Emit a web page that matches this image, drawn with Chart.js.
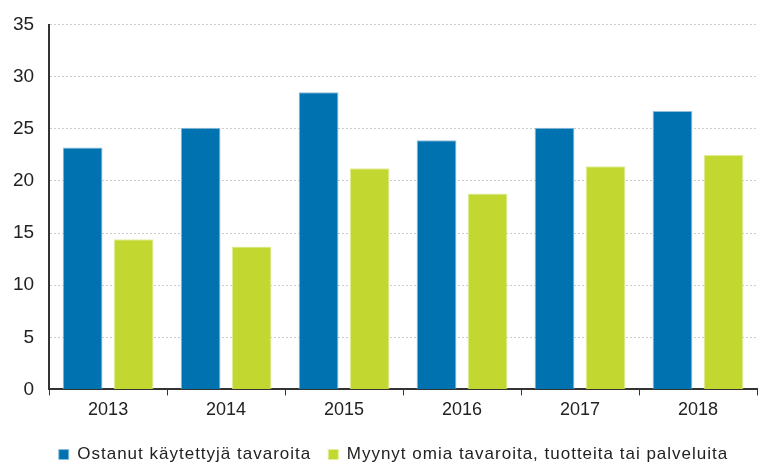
<!DOCTYPE html>
<html>
<head>
<meta charset="utf-8">
<script src="https://cdn.jsdelivr.net/npm/chart.js@4"></script>
<style>
html,body{margin:0;padding:0;background:#fff;}
#wrap{width:758px;height:465px;position:relative;}
</style>
</head>
<body>
<div id="wrap"><canvas id="c" width="758" height="465"></canvas></div>
<script>
const categories = ["2013", "2014", "2015", "2016", "2017", "2018"];
const seriesNames = ["Ostanut käytettyjä tavaroita", "Myynyt omia tavaroita, tuotteita tai palveluita"];
const bought = [23.2, 25.1, 28.5, 23.9, 25.1, 26.7];
const sold = [14.4, 13.7, 21.2, 18.8, 21.4, 22.5];
const yTicks = [0, 5, 10, 15, 20, 25, 30, 35];

const FONT = "'Liberation Sans', Arial, sans-serif";

const chart = new Chart(document.getElementById('c'), {
  type: 'bar',
  data: {
    labels: categories,
    datasets: [
      { label: seriesNames[0], data: bought, backgroundColor: '#0072B0', borderColor: '#8fbedc', borderWidth: 1,
        categoryPercentage: 0.865, barPercentage: 0.78 },
      { label: seriesNames[1], data: sold, backgroundColor: '#C2D831', borderColor: '#e3ee9e', borderWidth: 1,
        categoryPercentage: 0.865, barPercentage: 0.78 }
    ]
  },
  options: {
    responsive: false,
    animation: false,
    devicePixelRatio: 1,
    layout: { padding: { top: 8, right: 1, left: -2, bottom: -4 } },
    plugins: {
      legend: {
        position: 'bottom',
        labels: { font: { family: FONT, size: 17 }, color: '#222', boxWidth: 10, boxHeight: 10, padding: 17 }
      },
      tooltip: { enabled: false }
    },
    scales: {
      x: {
        grid: { display: true, drawOnChartArea: false, drawTicks: true, tickLength: 6, color: '#333', offset: true },
        border: { display: true, color: '#333', width: 2 },
        ticks: { font: { family: FONT, size: 18 }, color: '#222', padding: 4 }
      },
      y: {
        min: 0, max: 35,
        afterBuildTicks: (axis) => { axis.ticks = yTicks.map(v => ({ value: v })); },
        grid: { color: '#cccccc', drawTicks: false, lineWidth: 1 },
        border: { display: true, color: '#333', width: 2, dash: [2, 2] },
        ticks: { font: { family: FONT, size: 19, lineHeight: 1.0 }, color: '#222', padding: 15 }
      }
    }
  }
});

// slight letter spacing and offset for the legend, as in the reference
const lg = chart.legend;
if (lg) {
  const origFit = lg.fit.bind(lg);
  const origDraw = lg.draw.bind(lg);
  lg.fit = function () { const c = this.ctx; c.save(); c.letterSpacing = '1px'; origFit(); c.restore(); };
  lg.draw = function () { const c = this.ctx; c.save(); c.letterSpacing = '1px'; c.translate(16, 4); origDraw(); c.restore(); };
  chart.update();
}
</script>
</body>
</html>
